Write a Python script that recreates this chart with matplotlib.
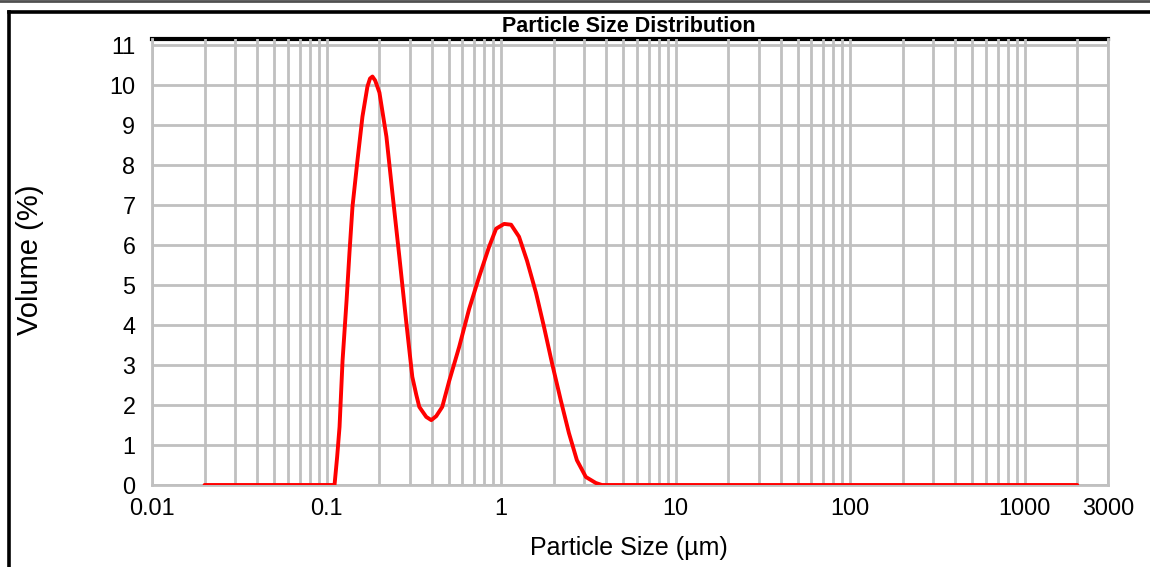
import matplotlib
matplotlib.use("Agg")
import matplotlib.pyplot as plt
from matplotlib.lines import Line2D

plt.rcParams['font.family'] = ['Liberation Sans', 'DejaVu Sans']

# particle size (um) and volume (%)
size_um = [0.02, 0.1111, 0.1150, 0.1187, 0.1235, 0.1302, 0.1353, 0.1408,
           0.1503, 0.1606, 0.1715, 0.1774, 0.1832, 0.1900, 0.2009, 0.2203,
           0.2383, 0.2613, 0.2865, 0.3100, 0.3268, 0.3400, 0.3727, 0.3981,
           0.4251, 0.4601, 0.5045, 0.5754, 0.6564, 0.7486, 0.8538, 0.9363,
           1.040, 1.141, 1.267, 1.408, 1.585, 1.761, 1.956, 2.202, 2.446,
           2.718, 3.060, 3.491, 3.777, 2000]
volume_pct = [0.0, 0.0, 0.7, 1.45, 3.1, 4.6, 5.8, 6.95,
              8.1, 9.2, 9.95, 10.15, 10.2, 10.1, 9.8, 8.7,
              7.3, 5.7, 4.05, 2.7, 2.25, 1.95, 1.70, 1.62,
              1.72, 1.95, 2.6, 3.45, 4.4, 5.2, 5.95, 6.4,
              6.52, 6.5, 6.2, 5.6, 4.8, 3.95, 3.05, 2.1, 1.3,
              0.62, 0.2, 0.05, 0.0, 0.0]

x_major = [0.01, 0.1, 1, 10, 100, 1000, 3000]
x_labels = ['0.01', '0.1', '1', '10', '100', '1000', '3000']
y_ticks = list(range(0, 12))

grid_gray = '#c0c0c0'

fig = plt.figure(figsize=(11.5, 5.67), dpi=100)
ax = fig.add_axes([152 / 1150, 82 / 567, 956 / 1150, 446.5 / 567])

ax.plot(size_um, volume_pct, color='red', lw=2.8, zorder=3,
        solid_capstyle='round', solid_joinstyle='round')

ax.set_xscale('log')
ax.set_xlim(0.01, 3000)
ax.set_ylim(0, 11.15)

minor = [m * d for d in x_major[:-1] for m in range(2, 10) if m * d < 3000]
ax.set_xticks(x_major)
ax.set_xticklabels(x_labels)
ax.set_xticks(minor, minor=True)
ax.set_xticklabels([], minor=True)
ax.set_yticks(y_ticks)

ax.tick_params(axis='both', which='both', length=0, labelsize=16.8)
ax.tick_params(axis='x', pad=8.5)
ax.tick_params(axis='y', pad=12)
ax.grid(True, which='both', axis='x', color=grid_gray, lw=2.0)
ax.grid(True, which='major', axis='y', color=grid_gray, lw=2.0)

for side in ['left', 'right', 'bottom']:
    ax.spines[side].set_color(grid_gray)
    ax.spines[side].set_linewidth(2.0)
ax.spines['top'].set_color('black')
ax.spines['top'].set_linewidth(3)
ax.spines['top'].set_zorder(1)

fig.text(629 / 1150, 1 - 26 / 567, 'Particle Size Distribution',
         ha='center', va='center', fontsize=15.5, fontweight='bold')
fig.text(629 / 1150, 1 - 548 / 567, 'Particle Size (µm)',
         ha='center', va='center', fontsize=18)
fig.text(30 / 1150, 1 - 260 / 567, 'Volume (%)', rotation=90,
         ha='center', va='center', fontsize=21)

# outer frame of the original window
fig.add_artist(Line2D([0, 1], [1 - 1 / 567, 1 - 1 / 567], color='#505050', lw=2))
fig.add_artist(Line2D([9 / 1150, 1], [1 - 11.5 / 567, 1 - 11.5 / 567], color='black', lw=2.6))
fig.add_artist(Line2D([9 / 1150, 9 / 1150], [0, 1 - 11.5 / 567], color='black', lw=2.6))

fig.savefig('out.png', dpi=100)
